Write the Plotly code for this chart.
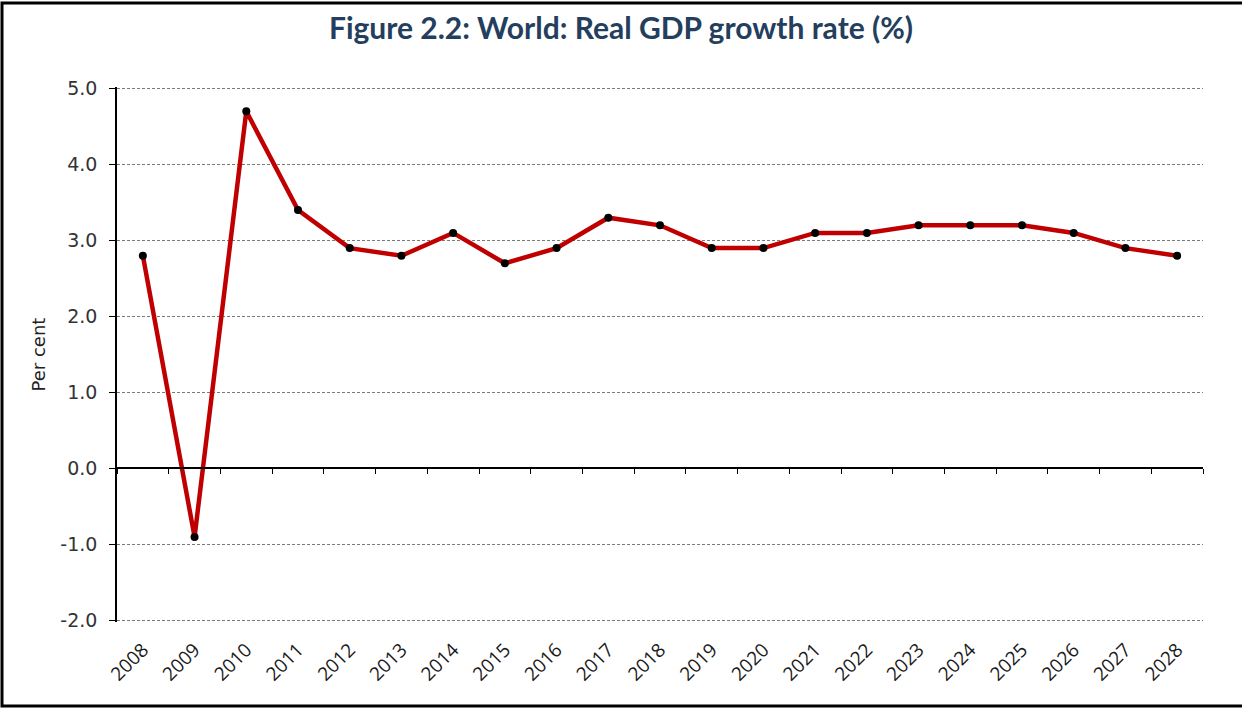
import plotly.graph_objects as go

# World real GDP growth, per cent
years = [str(y) for y in range(2008, 2029)]
growth = [2.8, -0.9, 4.7, 3.4, 2.9, 2.8, 3.1, 2.7, 2.9, 3.3, 3.2,
          2.9, 2.9, 3.1, 3.1, 3.2, 3.2, 3.2, 3.1, 2.9, 2.8]
y_ticks = [-2, -1, 0, 1, 2, 3, 4, 5]
y_tick_text = [f"{v:.1f}" for v in y_ticks]

W, H = 1242, 709
L, R, T, B = 117, 39, 87, 87
pw, ph = W - L - R, H - T - B
y_min, y_max = -2, 5
pad = 0.02  # keeps the gridlines at both range ends visible

fig = go.Figure()

fig.add_trace(go.Scatter(
    x=years, y=growth, mode="lines+markers",
    line=dict(color="#C00000", width=4.5),
    marker=dict(color="black", size=8),
    hoverinfo="x+y", showlegend=False,
))

# invisible copy carrying the axis drawn along y = 0
fig.add_trace(go.Scatter(
    x=years, y=growth, mode="lines", xaxis="x2",
    line=dict(width=0), opacity=0, hoverinfo="skip", showlegend=False,
))

lo, hi = y_min - pad, y_max + pad

fig.update_layout(
    width=W, height=H,
    margin=dict(l=L, r=R, t=T, b=B),
    paper_bgcolor="white", plot_bgcolor="white",
    title=dict(
        text="<b>Figure 2.2: World: Real GDP growth rate (%)</b>",
        font=dict(family="Lato", size=30, color="#243E5E"),
        x=0.5, xanchor="center", y=1 - 28 / H, yanchor="middle",
    ),
    xaxis=dict(
        type="category", range=[-0.5, len(years) - 0.5],
        showline=False, showgrid=False, zeroline=False, ticks="",
        tickangle=-45, ticklabelstandoff=12,
        tickfont=dict(family="Open Sans", size=19, color="#1a1a1a"),
    ),
    xaxis2=dict(
        type="category", overlaying="x", anchor="free",
        position=(0 - lo) / (hi - lo),
        range=[-0.5, len(years) - 0.5],
        showline=True, linecolor="black", linewidth=1.5,
        ticks="outside", tickson="boundaries", ticklen=5,
        tickcolor="black", tickwidth=1.2,
        showticklabels=False, showgrid=False, zeroline=False,
    ),
    yaxis=dict(
        range=[lo, hi], tickvals=y_ticks, ticktext=y_tick_text,
        showline=True, linecolor="black", linewidth=1.5,
        ticks="outside", ticklen=6, tickcolor="black", tickwidth=1.2,
        showgrid=True, gridcolor="#7a7a7a", gridwidth=1, griddash="3px,2px",
        zeroline=False,
        ticklabelstandoff=8,
        tickfont=dict(family="DejaVu Sans", size=19, color="#333"),
        title=dict(text="Per cent",
                   font=dict(family="DejaVu Sans", size=18, color="#222"),
                   standoff=10),
    ),
    shapes=[dict(
        type="rect", xref="paper", yref="paper",
        x0=(2 - L) / pw, x1=(W + 6 - L) / pw,
        y0=-(H - 3 - (H - B)) / ph, y1=1 + (T - 3) / ph,
        line=dict(color="black", width=3), fillcolor="rgba(0,0,0,0)",
        layer="below",
    )],
)

fig.write_html("out.html")
